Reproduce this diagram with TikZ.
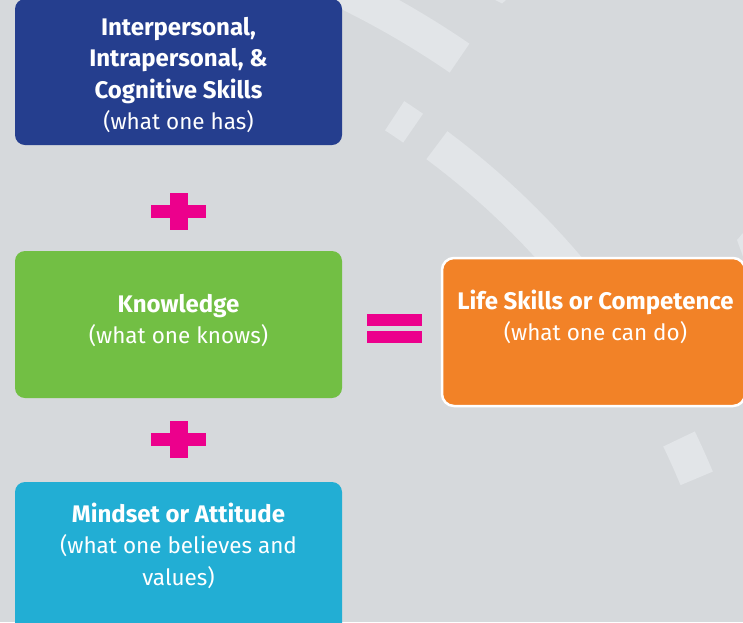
\documentclass[tikz,border=0pt]{standalone}
\usepackage{fontspec}
\setmainfont{Fira Sans}
\definecolor{bgcol}{HTML}{D6D9DC}
\definecolor{bandcol}{HTML}{E2E5E8}
\definecolor{navycol}{HTML}{253E8E}
\definecolor{greencol}{HTML}{72BF44}
\definecolor{cyancol}{HTML}{22AED4}
\definecolor{orangecol}{HTML}{F28227}
\definecolor{pinkcol}{HTML}{EC008C}
\newcommand{\cardhead}[1]{{\fontsize{24}{31.5}\selectfont\bfseries #1}}
\tikzset{
  card/.style={rectangle, rounded corners=10pt, draw=none, inner sep=0pt},
  cardtext/.style={align=center, text=white, inner sep=0pt,
    font=\fontsize{22.5}{31.5}\selectfont},
  band/.style={draw=bandcol, line width=35pt},
  sign/.style={fill=pinkcol}
}
\begin{document}
\begin{tikzpicture}[x=1pt,y=-1pt]
\useasboundingbox (0,0) rectangle (743,622);
\clip (0,0) rectangle (743,622);
\fill[bgcol] (0,0) rectangle (743,622);
% faint background rings
\begin{scope}[shift={(-40,785)}, y=1pt]
  \draw[band] (55.5:882pt) arc[start angle=55.5, end angle=72, radius=882pt];
  \draw[band] (32:798pt) arc[start angle=32, end angle=53.3, radius=798pt];
  \draw[band] (55.4:798pt) arc[start angle=55.4, end angle=57.0, radius=798pt];
  \draw[band] (22.6:798pt) arc[start angle=22.6, end angle=25.7, radius=798pt];
\end{scope}
\fill[bandcol] (502,3.5) -- (475,-10) -- (522,-14) -- cycle;
\fill[bandcol] (737,240) -- (760,213) -- (790,240) -- (749,273) -- cycle;
% cards
\node[card, fill=navycol, minimum width=327pt, minimum height=146pt] (skills) at (178.5,72) {};
\node[card, fill=greencol, minimum width=327pt, minimum height=147pt] (know) at (178.5,324.5) {};
\node[card, fill=cyancol, minimum width=327pt, minimum height=160pt] (mind) at (178.5,562) {};
\node[card, fill=orangecol, draw=white, line width=2.5pt, rounded corners=12pt,
      minimum width=303pt, minimum height=148pt] (life) at (593.5,332) {};
% texts
\node[cardtext] (skillsT) at (178.5,75) {\cardhead{Interpersonal,}\\ \cardhead{Intrapersonal, \&}\\ \cardhead{Cognitive Skills}\\ (what one has)};
\node[cardtext] (knowT) at (178.5,320.5) {\cardhead{Knowledge}\\ (what one knows)};
\node[cardtext] (lifeT) at (595.5,317) {\cardhead{Life Skills or Competence}\\ (what one can do)};
\node[cardtext] (mindT) at (178.5,545.5) {\cardhead{Mindset or Attitude}\\ (what one believes and\\ values)};
% operators
\fill[sign] (151,205) rectangle (206,218);
\fill[sign] (170,193) rectangle (188,230);
\fill[sign] (151,433) rectangle (206,446);
\fill[sign] (170,421) rectangle (188,458);
\fill[sign] (367,314) rectangle (422,326);
\fill[sign] (367,331) rectangle (422,343);
\end{tikzpicture}
\end{document}
